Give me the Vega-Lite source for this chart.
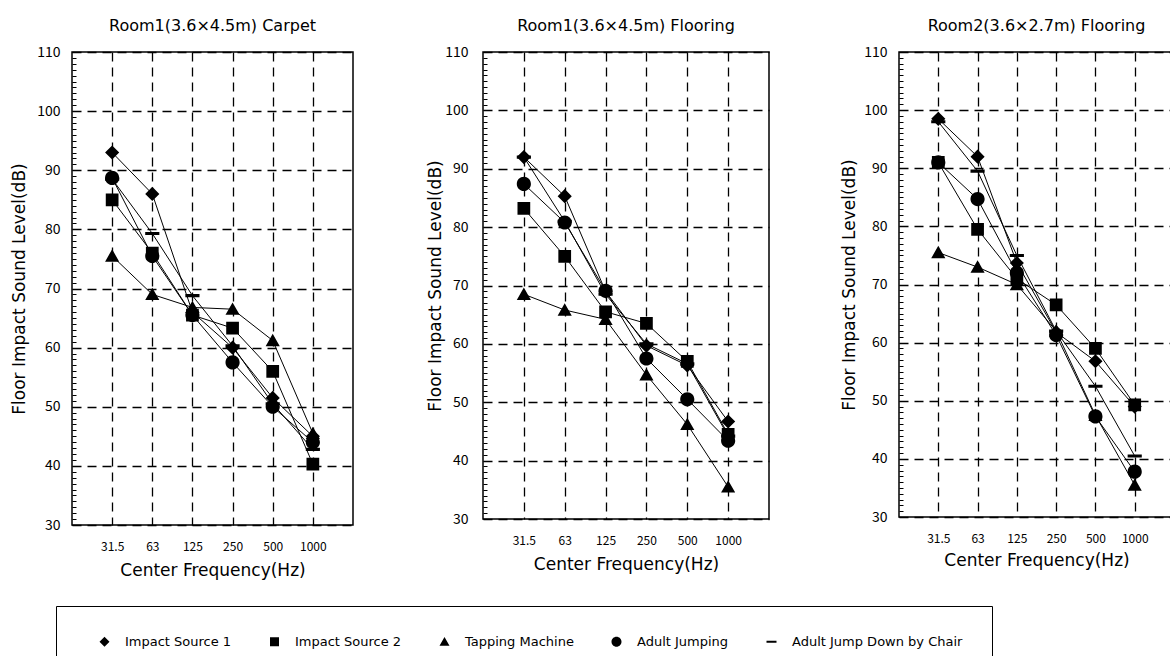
{
  "$schema": "https://vega.github.io/schema/vega-lite/v6.json",
  "background": "white",
  "padding": {"left": 9, "top": 17, "right": 0, "bottom": 0},
  "bounds": "flush",
  "spacing": 130,
  "config": {
    "font": "DejaVu Sans",
    "view": {"stroke": "black", "strokeWidth": 1.5},
    "axis": {"labelColor": "black", "labelFont": "Noto Sans CJK JP", "titleFont": "DejaVu Sans", "titleColor": "black", "titleFontWeight": "normal", "gridColor": "black", "gridDash": [9, 6], "gridWidth": 1.3, "domain": false, "labelOverlap": false},
    "title": {"fontSize": 16, "fontWeight": "normal", "color": "black", "offset": 11, "anchor": "middle", "font": "DejaVu Sans"},
    "legend": {"orient": "none", "legendX": -16, "legendY": 554, "direction": "horizontal", "columns": 5, "title": null, "strokeColor": "black", "strokeWidth": 1, "padding": 29, "symbolSize": 100, "symbolOffset": 13, "labelFont": "DejaVu Sans", "labelFontSize": 13, "labelColor": "black", "labelOffset": 14, "labelLimit": 400, "columnPadding": 20, "symbolStrokeWidth": 1, "symbolOpacity": 1}
  },
  "data": {"values": [
    {"room": "P1", "series": "Impact Source 1", "freq": "31.5", "hz": 31.5, "level": 93},
    {"room": "P1", "series": "Impact Source 1", "freq": "63", "hz": 63, "level": 86},
    {"room": "P1", "series": "Impact Source 1", "freq": "125", "hz": 125, "level": 66},
    {"room": "P1", "series": "Impact Source 1", "freq": "250", "hz": 250, "level": 60},
    {"room": "P1", "series": "Impact Source 1", "freq": "500", "hz": 500, "level": 51.5},
    {"room": "P1", "series": "Impact Source 1", "freq": "1000", "hz": 1000, "level": 45},
    {"room": "P1", "series": "Impact Source 2", "freq": "31.5", "hz": 31.5, "level": 85},
    {"room": "P1", "series": "Impact Source 2", "freq": "63", "hz": 63, "level": 76},
    {"room": "P1", "series": "Impact Source 2", "freq": "125", "hz": 125, "level": 65.5},
    {"room": "P1", "series": "Impact Source 2", "freq": "250", "hz": 250, "level": 63.3},
    {"room": "P1", "series": "Impact Source 2", "freq": "500", "hz": 500, "level": 56},
    {"room": "P1", "series": "Impact Source 2", "freq": "1000", "hz": 1000, "level": 40.3},
    {"room": "P1", "series": "Tapping Machine", "freq": "31.5", "hz": 31.5, "level": 75.5},
    {"room": "P1", "series": "Tapping Machine", "freq": "63", "hz": 63, "level": 69},
    {"room": "P1", "series": "Tapping Machine", "freq": "125", "hz": 125, "level": 66.8},
    {"room": "P1", "series": "Tapping Machine", "freq": "250", "hz": 250, "level": 66.5},
    {"room": "P1", "series": "Tapping Machine", "freq": "500", "hz": 500, "level": 61.2},
    {"room": "P1", "series": "Tapping Machine", "freq": "1000", "hz": 1000, "level": 45.5},
    {"room": "P1", "series": "Adult Jumping", "freq": "31.5", "hz": 31.5, "level": 88.7},
    {"room": "P1", "series": "Adult Jumping", "freq": "63", "hz": 63, "level": 75.5},
    {"room": "P1", "series": "Adult Jumping", "freq": "125", "hz": 125, "level": 65.5},
    {"room": "P1", "series": "Adult Jumping", "freq": "250", "hz": 250, "level": 57.5},
    {"room": "P1", "series": "Adult Jumping", "freq": "500", "hz": 500, "level": 50},
    {"room": "P1", "series": "Adult Jumping", "freq": "1000", "hz": 1000, "level": 44},
    {"room": "P1", "series": "Adult Jump Down by Chair", "freq": "31.5", "hz": 31.5, "level": 88.5},
    {"room": "P1", "series": "Adult Jump Down by Chair", "freq": "63", "hz": 63, "level": 79.3},
    {"room": "P1", "series": "Adult Jump Down by Chair", "freq": "125", "hz": 125, "level": 68.8},
    {"room": "P1", "series": "Adult Jump Down by Chair", "freq": "250", "hz": 250, "level": 60.3},
    {"room": "P1", "series": "Adult Jump Down by Chair", "freq": "500", "hz": 500, "level": 50.5},
    {"room": "P1", "series": "Adult Jump Down by Chair", "freq": "1000", "hz": 1000, "level": 42.8},
    {"room": "P2", "series": "Impact Source 1", "freq": "31.5", "hz": 31.5, "level": 92},
    {"room": "P2", "series": "Impact Source 1", "freq": "63", "hz": 63, "level": 85.3},
    {"room": "P2", "series": "Impact Source 1", "freq": "125", "hz": 125, "level": 69},
    {"room": "P2", "series": "Impact Source 1", "freq": "250", "hz": 250, "level": 59.7},
    {"room": "P2", "series": "Impact Source 1", "freq": "500", "hz": 500, "level": 56.3},
    {"room": "P2", "series": "Impact Source 1", "freq": "1000", "hz": 1000, "level": 46.7},
    {"room": "P2", "series": "Impact Source 2", "freq": "31.5", "hz": 31.5, "level": 83.2},
    {"room": "P2", "series": "Impact Source 2", "freq": "63", "hz": 63, "level": 75},
    {"room": "P2", "series": "Impact Source 2", "freq": "125", "hz": 125, "level": 65.5},
    {"room": "P2", "series": "Impact Source 2", "freq": "250", "hz": 250, "level": 63.5},
    {"room": "P2", "series": "Impact Source 2", "freq": "500", "hz": 500, "level": 57},
    {"room": "P2", "series": "Impact Source 2", "freq": "1000", "hz": 1000, "level": 44.5},
    {"room": "P2", "series": "Tapping Machine", "freq": "31.5", "hz": 31.5, "level": 68.5},
    {"room": "P2", "series": "Tapping Machine", "freq": "63", "hz": 63, "level": 65.8},
    {"room": "P2", "series": "Tapping Machine", "freq": "125", "hz": 125, "level": 64.2},
    {"room": "P2", "series": "Tapping Machine", "freq": "250", "hz": 250, "level": 54.7},
    {"room": "P2", "series": "Tapping Machine", "freq": "500", "hz": 500, "level": 46.2},
    {"room": "P2", "series": "Tapping Machine", "freq": "1000", "hz": 1000, "level": 35.5},
    {"room": "P2", "series": "Adult Jumping", "freq": "31.5", "hz": 31.5, "level": 87.4},
    {"room": "P2", "series": "Adult Jumping", "freq": "63", "hz": 63, "level": 80.8},
    {"room": "P2", "series": "Adult Jumping", "freq": "125", "hz": 125, "level": 69.1},
    {"room": "P2", "series": "Adult Jumping", "freq": "250", "hz": 250, "level": 57.5},
    {"room": "P2", "series": "Adult Jumping", "freq": "500", "hz": 500, "level": 50.5},
    {"room": "P2", "series": "Adult Jumping", "freq": "1000", "hz": 1000, "level": 43.4},
    {"room": "P2", "series": "Adult Jump Down by Chair", "freq": "31.5", "hz": 31.5, "level": 92},
    {"room": "P2", "series": "Adult Jump Down by Chair", "freq": "63", "hz": 63, "level": 81},
    {"room": "P2", "series": "Adult Jump Down by Chair", "freq": "125", "hz": 125, "level": 68.5},
    {"room": "P2", "series": "Adult Jump Down by Chair", "freq": "250", "hz": 250, "level": 60},
    {"room": "P2", "series": "Adult Jump Down by Chair", "freq": "500", "hz": 500, "level": 56.6},
    {"room": "P2", "series": "Adult Jump Down by Chair", "freq": "1000", "hz": 1000, "level": 44.2},
    {"room": "P3", "series": "Impact Source 1", "freq": "31.5", "hz": 31.5, "level": 98.5},
    {"room": "P3", "series": "Impact Source 1", "freq": "63", "hz": 63, "level": 92},
    {"room": "P3", "series": "Impact Source 1", "freq": "125", "hz": 125, "level": 73.7},
    {"room": "P3", "series": "Impact Source 1", "freq": "250", "hz": 250, "level": 61.8},
    {"room": "P3", "series": "Impact Source 1", "freq": "500", "hz": 500, "level": 56.8},
    {"room": "P3", "series": "Impact Source 1", "freq": "1000", "hz": 1000, "level": 49},
    {"room": "P3", "series": "Impact Source 2", "freq": "31.5", "hz": 31.5, "level": 91},
    {"room": "P3", "series": "Impact Source 2", "freq": "63", "hz": 63, "level": 79.5},
    {"room": "P3", "series": "Impact Source 2", "freq": "125", "hz": 125, "level": 71},
    {"room": "P3", "series": "Impact Source 2", "freq": "250", "hz": 250, "level": 66.5},
    {"room": "P3", "series": "Impact Source 2", "freq": "500", "hz": 500, "level": 59},
    {"room": "P3", "series": "Impact Source 2", "freq": "1000", "hz": 1000, "level": 49.3},
    {"room": "P3", "series": "Tapping Machine", "freq": "31.5", "hz": 31.5, "level": 75.5},
    {"room": "P3", "series": "Tapping Machine", "freq": "63", "hz": 63, "level": 73},
    {"room": "P3", "series": "Tapping Machine", "freq": "125", "hz": 125, "level": 70},
    {"room": "P3", "series": "Tapping Machine", "freq": "250", "hz": 250, "level": 62},
    {"room": "P3", "series": "Tapping Machine", "freq": "500", "hz": 500, "level": 47.5},
    {"room": "P3", "series": "Tapping Machine", "freq": "1000", "hz": 1000, "level": 35.5},
    {"room": "P3", "series": "Adult Jumping", "freq": "31.5", "hz": 31.5, "level": 91},
    {"room": "P3", "series": "Adult Jumping", "freq": "63", "hz": 63, "level": 84.7},
    {"room": "P3", "series": "Adult Jumping", "freq": "125", "hz": 125, "level": 72},
    {"room": "P3", "series": "Adult Jumping", "freq": "250", "hz": 250, "level": 61.3},
    {"room": "P3", "series": "Adult Jumping", "freq": "500", "hz": 500, "level": 47.3},
    {"room": "P3", "series": "Adult Jumping", "freq": "1000", "hz": 1000, "level": 37.8},
    {"room": "P3", "series": "Adult Jump Down by Chair", "freq": "31.5", "hz": 31.5, "level": 98},
    {"room": "P3", "series": "Adult Jump Down by Chair", "freq": "63", "hz": 63, "level": 89.5},
    {"room": "P3", "series": "Adult Jump Down by Chair", "freq": "125", "hz": 125, "level": 75},
    {"room": "P3", "series": "Adult Jump Down by Chair", "freq": "250", "hz": 250, "level": 62},
    {"room": "P3", "series": "Adult Jump Down by Chair", "freq": "500", "hz": 500, "level": 52.5},
    {"room": "P3", "series": "Adult Jump Down by Chair", "freq": "1000", "hz": 1000, "level": 40.5}
  ]},
  "hconcat": [
    {
      "title": "Room1(3.6×4.5m) Carpet",
      "width": 281, "height": 473,
      "transform": [{"filter": "datum.room === 'P1'"}],
      "encoding": {
        "x": {"field": "freq", "type": "ordinal", "title": "Center Frequency(Hz)", "scale": {"type": "point", "domain": ["31.5", "63", "125", "250", "500", "1000"], "padding": 1}, "axis": {"labelAngle": 0, "ticks": false, "labelPadding": 16, "labelFontSize": 12, "titleFontSize": 17, "titlePadding": 10, "grid": true}},
        "y": {"field": "level", "type": "quantitative", "title": "Floor Impact Sound Level(dB)", "scale": {"domain": [30, 110], "nice": false, "zero": false}, "axis": {"values": [30,31,32,33,34,35,36,37,38,39,40,41,42,43,44,45,46,47,48,49,50,51,52,53,54,55,56,57,58,59,60,61,62,63,64,65,66,67,68,69,70,71,72,73,74,75,76,77,78,79,80,81,82,83,84,85,86,87,88,89,90,91,92,93,94,95,96,97,98,99,100,101,102,103,104,105,106,107,108,109,110], "labelExpr": "datum.value % 10 === 0 ? datum.label : ''", "gridOpacity": {"condition": {"test": "datum.value % 10 === 0", "value": 1}, "value": 0}, "tickSize": -4, "tickColor": "black", "tickWidth": 1, "labelPadding": 16, "labelFontSize": 14, "titleFontSize": 17, "titlePadding": 8}}
      },
      "layer": [
        {"mark": {"type": "line", "color": "black", "strokeWidth": 1}, "encoding": {"detail": {"field": "series"}, "order": {"field": "hz", "type": "quantitative"}}},
        {"mark": {"type": "point", "filled": true, "color": "black", "size": 200, "opacity": 1}, "encoding": {"shape": {"field": "series", "type": "nominal", "scale": {"domain": ["Impact Source 1", "Impact Source 2", "Tapping Machine", "Adult Jumping", "Adult Jump Down by Chair"], "range": ["M-4,0H4M0,-1L1,0L0,1L-1,0Z", "M-4,0H4M-0.9,-0.9H0.9V0.9H-0.9Z", "M-4,0H4M0,-0.95L1,0.8H-1Z", "M-4,0H4M-1,0A1,1,0,1,1,1,0A1,1,0,1,1,-1,0Z", "M-4,0H4M-1,-0.22H1V0.22H-1Z"]}, "legend": {"encode": {"symbols": {"stroke": {"value": "black"}, "strokeWidth": {"value": 1}, "fill": {"value": "black"}}}}}}}
      ]
    },
    {
      "title": "Room1(3.6×4.5m) Flooring",
      "width": 286, "height": 467,
      "transform": [{"filter": "datum.room === 'P2'"}],
      "encoding": {
        "x": {"field": "freq", "type": "ordinal", "title": "Center Frequency(Hz)", "scale": {"type": "point", "domain": ["31.5", "63", "125", "250", "500", "1000"], "padding": 1}, "axis": {"labelAngle": 0, "ticks": false, "labelPadding": 16, "labelFontSize": 12, "titleFontSize": 17, "titlePadding": 10, "grid": true}},
        "y": {"field": "level", "type": "quantitative", "title": "Floor Impact Sound Level(dB)", "scale": {"domain": [30, 110], "nice": false, "zero": false}, "axis": {"values": [30,31,32,33,34,35,36,37,38,39,40,41,42,43,44,45,46,47,48,49,50,51,52,53,54,55,56,57,58,59,60,61,62,63,64,65,66,67,68,69,70,71,72,73,74,75,76,77,78,79,80,81,82,83,84,85,86,87,88,89,90,91,92,93,94,95,96,97,98,99,100,101,102,103,104,105,106,107,108,109,110], "labelExpr": "datum.value % 10 === 0 ? datum.label : ''", "gridOpacity": {"condition": {"test": "datum.value % 10 === 0", "value": 1}, "value": 0}, "tickSize": -4, "tickColor": "black", "tickWidth": 1, "labelPadding": 19, "labelFontSize": 14, "titleFontSize": 17, "titlePadding": 0}}
      },
      "layer": [
        {"mark": {"type": "line", "color": "black", "strokeWidth": 1}, "encoding": {"detail": {"field": "series"}, "order": {"field": "hz", "type": "quantitative"}}},
        {"mark": {"type": "point", "filled": true, "color": "black", "size": 200, "opacity": 1}, "encoding": {"shape": {"field": "series", "type": "nominal", "scale": {"domain": ["Impact Source 1", "Impact Source 2", "Tapping Machine", "Adult Jumping", "Adult Jump Down by Chair"], "range": ["M-4,0H4M0,-1L1,0L0,1L-1,0Z", "M-4,0H4M-0.9,-0.9H0.9V0.9H-0.9Z", "M-4,0H4M0,-0.95L1,0.8H-1Z", "M-4,0H4M-1,0A1,1,0,1,1,1,0A1,1,0,1,1,-1,0Z", "M-4,0H4M-1,-0.22H1V0.22H-1Z"]}, "legend": {"encode": {"symbols": {"stroke": {"value": "black"}, "strokeWidth": {"value": 1}, "fill": {"value": "black"}}}}}}}
      ]
    },
    {
      "title": "Room2(3.6×2.7m) Flooring",
      "width": 275, "height": 465,
      "transform": [{"filter": "datum.room === 'P3'"}],
      "encoding": {
        "x": {"field": "freq", "type": "ordinal", "title": "Center Frequency(Hz)", "scale": {"type": "point", "domain": ["31.5", "63", "125", "250", "500", "1000"], "padding": 1}, "axis": {"labelAngle": 0, "ticks": false, "labelPadding": 16, "labelFontSize": 12, "titleFontSize": 17, "titlePadding": 8, "grid": true}},
        "y": {"field": "level", "type": "quantitative", "title": "Floor Impact Sound Level(dB)", "scale": {"domain": [30, 110], "nice": false, "zero": false}, "axis": {"values": [30,31,32,33,34,35,36,37,38,39,40,41,42,43,44,45,46,47,48,49,50,51,52,53,54,55,56,57,58,59,60,61,62,63,64,65,66,67,68,69,70,71,72,73,74,75,76,77,78,79,80,81,82,83,84,85,86,87,88,89,90,91,92,93,94,95,96,97,98,99,100,101,102,103,104,105,106,107,108,109,110], "labelExpr": "datum.value % 10 === 0 ? datum.label : ''", "gridOpacity": {"condition": {"test": "datum.value % 10 === 0", "value": 1}, "value": 0}, "tickSize": -4, "tickColor": "black", "tickWidth": 1, "labelPadding": 16, "labelFontSize": 14, "titleFontSize": 17, "titlePadding": 5}}
      },
      "layer": [
        {"mark": {"type": "line", "color": "black", "strokeWidth": 1}, "encoding": {"detail": {"field": "series"}, "order": {"field": "hz", "type": "quantitative"}}},
        {"mark": {"type": "point", "filled": true, "color": "black", "size": 200, "opacity": 1}, "encoding": {"shape": {"field": "series", "type": "nominal", "scale": {"domain": ["Impact Source 1", "Impact Source 2", "Tapping Machine", "Adult Jumping", "Adult Jump Down by Chair"], "range": ["M-4,0H4M0,-1L1,0L0,1L-1,0Z", "M-4,0H4M-0.9,-0.9H0.9V0.9H-0.9Z", "M-4,0H4M0,-0.95L1,0.8H-1Z", "M-4,0H4M-1,0A1,1,0,1,1,1,0A1,1,0,1,1,-1,0Z", "M-4,0H4M-1,-0.22H1V0.22H-1Z"]}, "legend": {"encode": {"symbols": {"stroke": {"value": "black"}, "strokeWidth": {"value": 1}, "fill": {"value": "black"}}}}}}}
      ]
    }
  ]
}
